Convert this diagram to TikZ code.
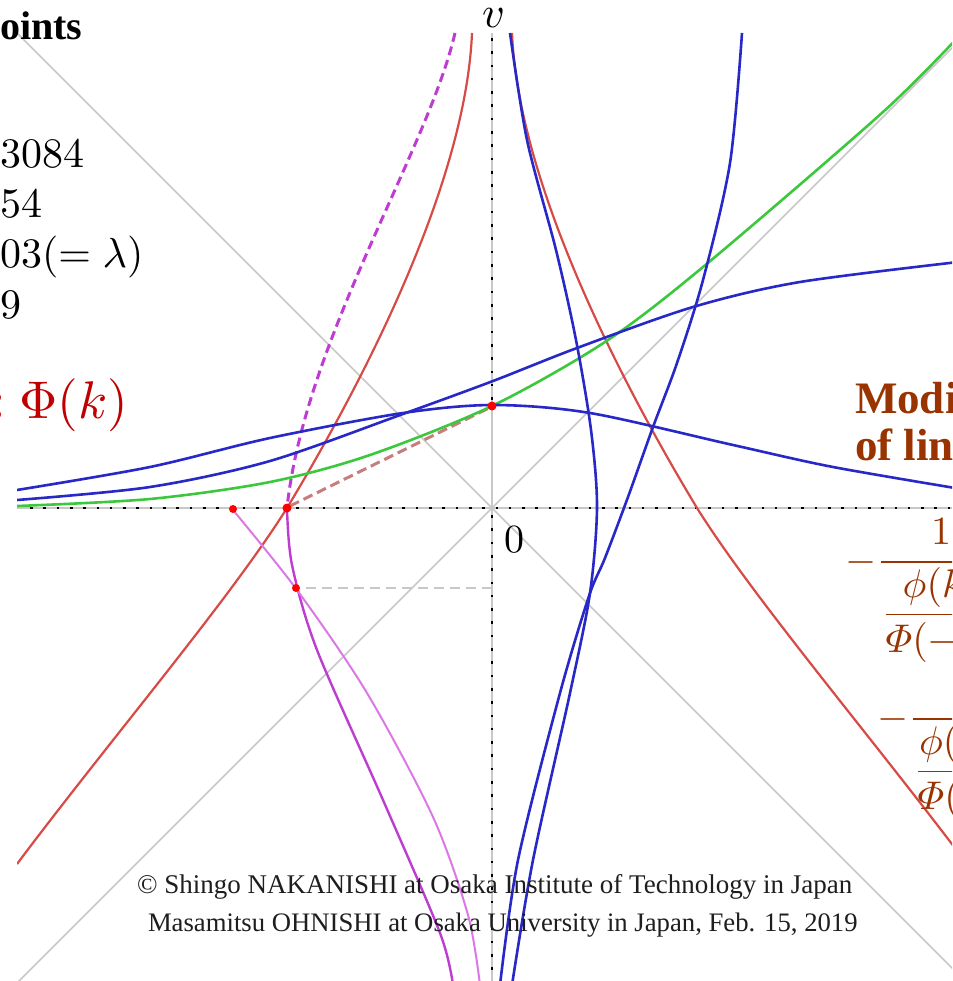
\documentclass[tikz,border=0pt]{standalone}
\usepackage{amsmath}
\usepackage{fontspec}
\newfontfamily\timesfont{Liberation Serif}
\definecolor{cblue}{RGB}{40,40,200}
\definecolor{cred}{RGB}{215,75,70}
\definecolor{cgreen}{RGB}{60,200,60}
\definecolor{cmag}{RGB}{190,60,210}
\definecolor{clmag}{RGB}{220,120,230}
\definecolor{cgray}{RGB}{200,200,200}
\definecolor{crosy}{RGB}{200,125,125}
\definecolor{cbrown}{RGB}{153,51,0}
\definecolor{cdred}{RGB}{192,0,0}
\definecolor{cdot}{RGB}{255,0,0}
\definecolor{ctext}{RGB}{30,30,30}
\tikzset{
  diag/.style={cgray, line width=1.6pt},
  axisline/.style={cgray, line width=2pt},
  axisdots/.style={black, line width=2.6pt, dash pattern=on 2.6pt off 10.7pt},
  bluecurve/.style={cblue, line width=2.6pt},
  redcurve/.style={cred, line width=2.2pt},
  greencurve/.style={cgreen, line width=2.6pt},
  magcurve/.style={cmag, line width=2.4pt},
  lmagcurve/.style={clmag, line width=2pt},
  magdash/.style={cmag, line width=3pt, dash pattern=on 9pt off 5pt},
  reddot/.style={circle, fill=cdot, inner sep=0pt, minimum size=9pt},
  smalldot/.style={circle, fill=cdot, inner sep=0pt, minimum size=8pt},
  txt/.style={anchor=base west, inner sep=0pt, outer sep=0pt},
}
\begin{document}
\begin{tikzpicture}[x=1pt, y=-1pt]
\useasboundingbox (0,0) rectangle (952,981);
\fill[white] (0,0) rectangle (952,981);
\begin{scope}
\clip (0,0) rectangle (952,981);
\begin{scope}
\clip (17,33) rectangle (970,990);
% diagonals
\draw[diag] (17,33) -- (970,986);
\draw[diag] (17,983) -- (967,33);
% axes
\draw[axisline] (17,508) -- (952,508);
\draw[axisline] (492,33) -- (492,981);
\draw[axisdots] (30,508) -- (952,508);
\draw[axisdots] (492,38) -- (492,400);
\draw[axisdots] (492,515) -- (492,981);
% helper dashed line
\draw[cgray, line width=2.4pt, dash pattern=on 10pt off 6pt] (492,588) -- (300,588);
% red curves
\draw[redcurve] (512,33) .. controls (519,200) and (644,420) .. (697,508) .. controls (754,599) and (874,740) .. (967,864);
\draw[redcurve] (472,33) .. controls (465,200) and (340,420) .. (287,508) .. controls (230,599) and (110,740) .. (17,864);
% magenta curves
\draw[magdash] (455,33) .. controls (428,150) and (305,340) .. (287,508);
\draw[magcurve] plot[smooth] coordinates {(287,508) (292,565) (317,650) (383,800) (440,933) (453,985)};
\draw[lmagcurve] plot[smooth] coordinates {(233,510) (297,590) (367,693) (433,817) (468,915) (480,985)};
% rosy dashed
\draw[crosy, line width=3pt, dash pattern=on 10pt off 5pt] (290,506) -- (489,408);
% green
\draw[greencurve] plot[smooth] coordinates {(17,506) (150,499) (270,482) (370,455) (492,406) (605,342) (703,267) (883,112) (962,33)};
% blue curves
\draw[bluecurve] plot[smooth] coordinates {(17,490) (150,467) (270,438) (403,413) (493,405) (590,413) (733,445) (833,467) (967,490)};
\draw[bluecurve] plot[smooth] coordinates {(17,500) (150,487) (270,461) (403,414) (493,381) (577,348) (693,307) (800,282) (967,261)};
\draw[bluecurve] plot[smooth] coordinates {(510,33) (527,140) (556,250) (576,340) (591,430) (597,507) (590,593) (570,693) (533,860) (512,985)};
\draw[bluecurve] plot[smooth] coordinates {(742,33) (730,163) (703,280) (677,363) (653,427) (628,497) (605,558) (589,596) (560,693) (518,860) (500,985)};
\end{scope}
% red dots
\node[reddot] (pA) at (492,406) {};
\node[reddot] (pB) at (287,508) {};
\node[smalldot] (pC) at (233,509) {};
\node[smalldot] (pD) at (296,588) {};
% texts
\node[txt] (tPoints) at (0,40) {\fontsize{40}{48}\selectfont\timesfont\bfseries oints};
\node[txt, scale=4.2] (tn1) at (0,168) {$3084$};
\node[txt, scale=4.2] (tn2) at (0,218) {$54$};
\node[txt, scale=4.2] (tn3) at (0,268) {$03(=\lambda)$};
\node[txt, scale=4.2] (tn4) at (0,318) {$9$};
\node[txt, text=cdred, scale=5.3] (tPhi) at (-12,418) {{\timesfont\bfseries :}\hspace{2.6pt}$\Phi(k)$};
\node[txt, scale=4.4] (tv) at (482,28) {$v$};
\node[txt, scale=4] (t0) at (504,552) {$0$};
\node[txt, text=cbrown] (tMod) at (855,413) {\fontsize{45}{52}\selectfont\timesfont\bfseries Modification};
\node[txt, text=cbrown] (tLin) at (855,460) {\fontsize{45}{52}\selectfont\timesfont\bfseries of lines};
\node[txt, text=cbrown, scale=4] (tF1) at (845,572) {$-\dfrac{1}{\dfrac{\phi(k)}{\varPhi(-k)}}$};
\node[txt, text=cbrown, scale=4] (tF2) at (877,729) {$-\dfrac{1}{\dfrac{\phi(-k)}{\varPhi(-k)}}$};
\node[txt, text=ctext] (tC1) at (137,893) {\fontsize{27}{31}\selectfont\timesfont \textcopyright\ Shingo NAKANISHI at Osaka Institute of Technology in Japan};
\node[txt, text=ctext] (tC2) at (148,931) {\fontsize{26.7}{31}\selectfont\timesfont Masamitsu OHNISHI at Osaka University in Japan, Feb. 15, 2019};
\end{scope}
\end{tikzpicture}
\end{document}
